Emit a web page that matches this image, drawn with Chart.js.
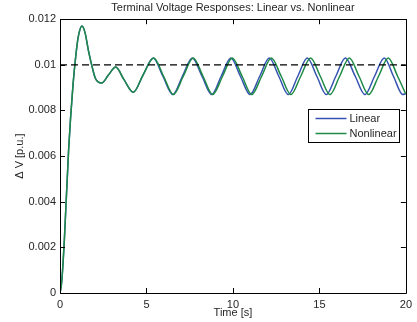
<!DOCTYPE html>
<html>
<head>
<meta charset="utf-8">
<script src="https://cdn.jsdelivr.net/npm/chart.js@4.4.0/dist/chart.umd.min.js"></script>
<style>
  html, body { margin: 0; padding: 0; background: #fff; }
</style>
</head>
<body>
<canvas id="chart" width="417" height="322"></canvas>
<script>
// values (time in s, deviation in p.u.)
var linearT = [0, 0.1, 0.25, 0.5, 0.75, 0.9, 1.05, 1.27, 1.45, 1.65,
  1.83, 2.05, 2.41, 2.8, 3.22, 3.7, 4.24, 4.8, 5.39, 5.95,
  6.52, 7.08, 7.65, 8.21, 8.77, 9.32, 9.88, 10.43, 10.99, 11.55,
  12.1, 12.65, 13.2, 13.75, 14.3, 14.85, 15.4, 15.95, 16.5, 17.07,
  17.63, 18.19, 18.75, 19.28, 19.82, 20];
var linearV = [0, 0.0005, 0.0023, 0.0063, 0.0091, 0.0103, 0.0112, 0.0117, 0.0114, 0.0106,
  0.0100, 0.0094, 0.0092, 0.00955, 0.0099, 0.00935, 0.0088, 0.00955, 0.0103, 0.0095,
  0.0087, 0.0095, 0.0103, 0.0095, 0.0087, 0.0095, 0.0103, 0.0095, 0.0087, 0.0095,
  0.0103, 0.0095, 0.0087, 0.0095, 0.0103, 0.0095, 0.0087, 0.0095, 0.0103, 0.0095,
  0.0087, 0.0095, 0.0103, 0.0095, 0.0087, 0.00874];

var nonlinearT = [0, 0.1, 0.25, 0.5, 0.75, 0.9, 1.05, 1.27, 1.45, 1.65,
  1.83, 2.05, 2.41, 2.8, 3.22, 3.7, 4.24, 4.8, 5.42, 5.99,
  6.56, 7.13, 7.7, 8.27, 8.83, 9.4, 9.96, 10.53, 11.09, 11.66,
  12.22, 12.79, 13.35, 13.92, 14.49, 15.05, 15.61, 16.17, 16.73, 17.29,
  17.85, 18.42, 18.98, 19.52, 20];
var nonlinearV = [0, 0.0005, 0.0023, 0.0063, 0.0091, 0.0103, 0.0112, 0.0117, 0.0114, 0.0106,
  0.0100, 0.0094, 0.0092, 0.00955, 0.0099, 0.00935, 0.0088, 0.00955, 0.0103, 0.0095,
  0.0087, 0.0095, 0.0103, 0.0095, 0.0087, 0.0095, 0.0103, 0.0095, 0.0087, 0.0095,
  0.0103, 0.0095, 0.0087, 0.0095, 0.0103, 0.0095, 0.0087, 0.0095, 0.0103, 0.0095,
  0.0087, 0.0095, 0.0103, 0.0095, 0.00871];

var refT = [0, 20];
var refV = [0.01, 0.01];

var xTicks = [0, 5, 10, 15, 20];
var yTicks = [0, 0.002, 0.004, 0.006, 0.008, 0.01, 0.012];
var seriesNames = ['Linear', 'Nonlinear'];
var seriesColors = ['#3553b0', '#1d8a45'];

var FONT = 'Liberation Sans, Arial, Helvetica, sans-serif';
var INK = '#262626';

function toPoints(t, v) {
  return t.map(function (x, i) { return { x: x, y: v[i] }; });
}

// box round the axes with inward ticks on all four sides, plus the legend
var framePlugin = {
  id: 'frame',
  afterDraw: function (chart) {
    var ctx = chart.ctx;
    var a = chart.chartArea;
    var xs = chart.scales.x, ys = chart.scales.y;
    var tl = 5;
    ctx.save();
    ctx.strokeStyle = '#000';
    ctx.lineWidth = 1;
    ctx.beginPath();
    ctx.rect(Math.round(a.left) + 0.5, Math.round(a.top) + 0.5,
      Math.round(a.right - a.left), Math.round(a.bottom - a.top));
    xTicks.forEach(function (t) {
      var px = Math.round(xs.getPixelForValue(t)) + 0.5;
      ctx.moveTo(px, a.bottom); ctx.lineTo(px, a.bottom - tl);
      ctx.moveTo(px, a.top); ctx.lineTo(px, a.top + tl);
    });
    yTicks.forEach(function (v) {
      var py = Math.round(ys.getPixelForValue(v)) + 0.5;
      ctx.moveTo(a.left, py); ctx.lineTo(a.left + tl, py);
      ctx.moveTo(a.right, py); ctx.lineTo(a.right - tl, py);
    });
    ctx.stroke();

    // legend box
    var bx = Math.round(a.right - 98) + 0.5, by = Math.round(a.top + 90) + 0.5;
    var bw = 91, bh = 33;
    ctx.fillStyle = '#fff';
    ctx.fillRect(bx, by, bw, bh);
    ctx.strokeRect(bx, by, bw, bh);
    ctx.font = '11px ' + FONT;
    ctx.textBaseline = 'middle';
    ctx.textAlign = 'left';
    seriesNames.forEach(function (name, i) {
      var ry = by + 9 + i * 15;
      ctx.strokeStyle = seriesColors[i];
      ctx.lineWidth = 1.5;
      ctx.beginPath();
      ctx.moveTo(bx + 7, ry); ctx.lineTo(bx + 38, ry);
      ctx.stroke();
      ctx.fillStyle = INK;
      ctx.fillText(name, bx + 41, ry);
    });
    ctx.restore();
  }
};

new Chart(document.getElementById('chart'), {
  type: 'line',
  data: {
    datasets: [
      {
        label: seriesNames[0],
        data: toPoints(linearT, linearV),
        borderColor: seriesColors[0],
        borderWidth: 1.5,
        pointRadius: 0,
        cubicInterpolationMode: 'monotone',
        order: 2
      },
      {
        label: seriesNames[1],
        data: toPoints(nonlinearT, nonlinearV),
        borderColor: seriesColors[1],
        borderWidth: 1.5,
        pointRadius: 0,
        cubicInterpolationMode: 'monotone',
        order: 1
      },
      {
        label: 'Reference',
        data: toPoints(refT, refV),
        borderColor: '#000',
        borderWidth: 1.3,
        borderDash: [7, 4],
        pointRadius: 0,
        order: 0
      }
    ]
  },
  options: {
    responsive: false,
    animation: false,
    layout: { padding: { left: 0, right: 11, top: 0, bottom: 0 } },
    plugins: {
      legend: { display: false },
      tooltip: { enabled: false },
      title: {
        display: true,
        fullSize: false,
        text: 'Terminal Voltage Responses: Linear vs. Nonlinear',
        color: INK,
        font: { family: FONT, size: 11, weight: 'normal' },
        padding: { top: 1, bottom: 5 }
      }
    },
    scales: {
      x: {
        type: 'linear',
        min: 0,
        max: 20,
        grid: { display: false, drawTicks: false },
        border: { display: false },
        afterBuildTicks: function (s) { s.ticks = xTicks.map(function (v) { return { value: v }; }); },
        afterFit: function (s) { s.height = 29; },
        ticks: {
          color: INK,
          padding: 5,
          maxRotation: 0,
          font: { family: FONT, size: 11 },
          callback: function (v) { return String(v); }
        },
        title: {
          display: true,
          text: 'Time [s]',
          color: INK,
          font: { family: FONT, size: 11 },
          padding: { top: 0, bottom: 2 }
        }
      },
      y: {
        type: 'linear',
        min: 0,
        max: 0.012,
        grid: { display: false, drawTicks: false },
        border: { display: false },
        afterBuildTicks: function (s) { s.ticks = yTicks.map(function (v) { return { value: v }; }); },
        afterFit: function (s) { s.width = 60; },
        ticks: {
          color: INK,
          padding: 4,
          font: { family: FONT, size: 11 },
          callback: function (v) { return String(Number(v.toFixed(3))); }
        },
        title: {
          display: true,
          text: 'Δ V [p.u.]',
          color: INK,
          font: { family: FONT, size: 11 },
          padding: { top: 13, bottom: 0 }
        }
      }
    }
  },
  plugins: [framePlugin]
});
</script>
</body>
</html>
